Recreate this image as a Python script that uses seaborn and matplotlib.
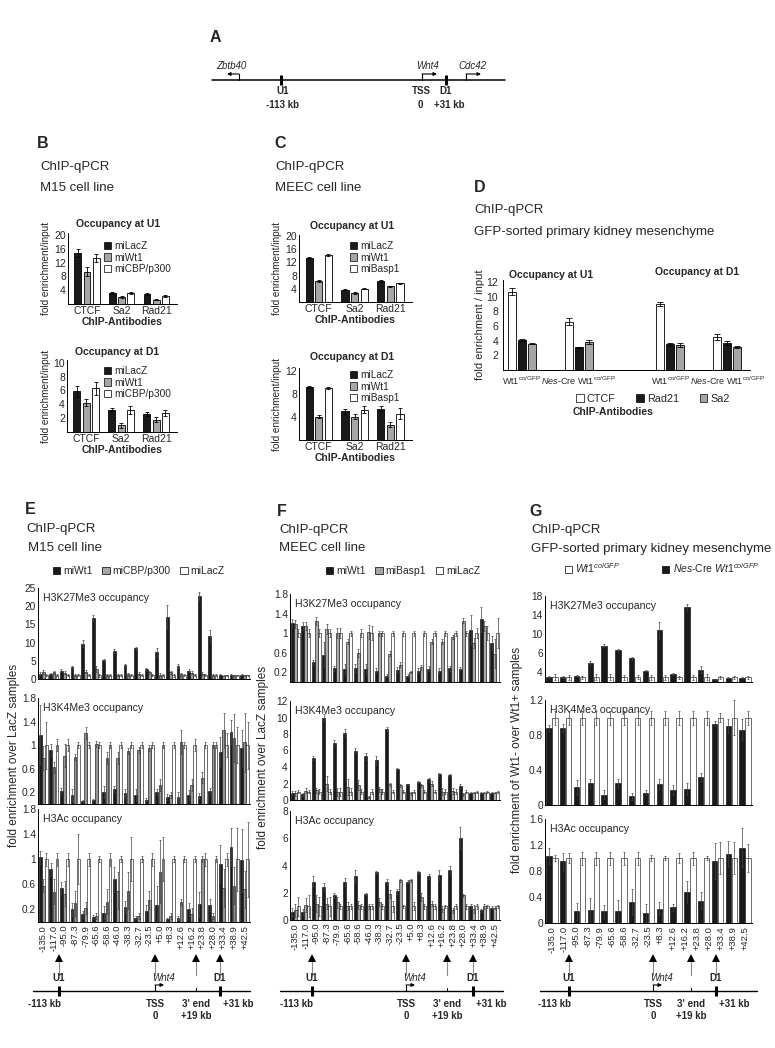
import numpy as np
import pandas as pd
import matplotlib
matplotlib.use("Agg")
import matplotlib.pyplot as plt
import seaborn as sns
from matplotlib.patches import Patch

W, H = 775, 1048

# ---------------- data: panels B / C / D ----------------
antibodies = ["CTCF", "Sa2", "Rad21"]
m15_sets = ["miLacZ", "miWt1", "miCBP/p300"]
meec_sets = ["miLacZ", "miWt1", "miBasp1"]

b_u1 = [[14.7, 3.2, 2.8], [9.3, 1.9, 1.3], [13.3, 3.2, 2.3]]
b_u1_err = [[1.2, 0.3, 0.3], [1.3, 0.3, 0.2], [1.2, 0.3, 0.3]]
b_d1 = [[5.9, 3.2, 2.6], [4.2, 1.0, 1.8], [6.3, 3.2, 2.7]]
b_d1_err = [[0.8, 0.2, 0.3], [0.5, 0.35, 0.3], [0.9, 0.6, 0.45]]

c_u1 = [[13.4, 3.7, 6.4], [6.4, 2.7, 4.7], [14.2, 4.0, 5.7]]
c_u1_err = [[0.2, 0.2, 0.2], [0.2, 0.2, 0.2], [0.2, 0.2, 0.2]]
c_d1 = [[9.3, 5.0, 5.5], [4.1, 4.1, 2.7], [9.1, 5.3, 4.6]]
c_d1_err = [[0.2, 0.5, 0.4], [0.3, 0.4, 0.4], [0.2, 0.6, 1.0]]

d_antibodies = ["CTCF", "Rad21", "Sa2"]
d_labels = [r"Wt1$^{\mathrm{co/GFP}}$", r"$\mathit{Nes}$-Cre Wt1$^{\mathrm{co/GFP}}$",
            r"Wt1$^{\mathrm{co/GFP}}$", r"$\mathit{Nes}$-Cre Wt1$^{\mathrm{co/GFP}}$"]
d_vals = [[10.7, 6.6, 9.0, 4.5], [4.1, 3.1, 3.5, 3.7], [3.6, 3.8, 3.4, 3.1]]
d_err = [[0.5, 0.5, 0.3, 0.45], [0.2, 0.1, 0.2, 0.3], [0.1, 0.3, 0.3, 0.15]]

# ---------------- data: panels E / F / G ----------------
sites = ["-135.0", "-117.0", "-95.0", "-87.3", "-79.9", "-65.6", "-58.6", "-46.0", "-38.3",
         "-32.7", "-23.5", "+5.0", "+8.3", "+12.6", "+16.2", "+23.8", "+28.0", "+33.4",
         "+38.9", "+42.5"]
g_sites = ["-135.0", "-117.0", "-95.0", "-87.3", "-79.9", "-65.6", "-58.6", "-32.7", "-23.5",
           "+8.3", "+12.6", "+16.2", "+23.8", "+28.0", "+33.4", "+38.9", "+42.5"]
g_groups = ["g01", "g02", "g03", "g04", "g05", "g06", "g07", "g08", "g09", "g10",
            "g11", "g12", "g13", "g14", "g15"]

e_sets = ["miWt1", "miCBP/p300", "miLacZ"]
f_sets = ["miWt1", "miBasp1", "miLacZ"]
g_sets = ["Nes-Cre Wt1co/GFP", "Wt1co/GFP"]

lacz_ones = [1.0, 1.0, 1.0, 1.0, 1.0, 1.0, 1.0, 1.0, 1.0, 1.0,
             1.0, 1.0, 1.0, 1.0, 1.0, 1.0, 1.0, 1.0, 1.0, 1.0]
wt1_ones = [1.0, 1.0, 1.0, 1.0, 1.0, 1.0, 1.0, 1.0, 1.0, 1.0, 1.0, 1.0, 1.0, 1.0, 1.0]

e_k27 = [[1.5, 1.3, 2.3, 3.3, 9.7, 16.7, 5.3, 7.7, 3.8, 8.4, 2.7, 7.3, 17.0, 3.5, 2.3, 22.8, 11.9, 1.2, 1.2, 1.2],
         [2.0, 1.8, 1.7, 1.0, 2.0, 2.8, 1.0, 1.2, 1.3, 1.5, 1.8, 1.2, 1.8, 1.3, 1.7, 1.5, 1.2, 0.9, 1.0, 1.0],
         lacz_ones]
e_k27_err = [[0.4, 0.3, 0.4, 0.4, 0.9, 0.9, 0.3, 0.5, 0.4, 0.5, 0.4, 1.2, 3.4, 0.5, 0.5, 1.2, 1.6, 0.2, 0.2, 0.2],
             [0.5, 0.4, 0.4, 0.3, 0.4, 0.8, 0.3, 0.3, 0.4, 0.4, 0.4, 0.4, 0.5, 0.4, 0.4, 0.5, 0.3, 0.2, 0.2, 0.2],
             [0.3, 0.3, 0.3, 0.3, 0.3, 0.4, 0.3, 0.3, 0.3, 0.3, 0.3, 0.3, 0.4, 0.3, 0.3, 0.3, 0.3, 0.2, 0.2, 0.2]]
e_k4 = [[1.18, 0.92, 0.22, 0.15, 0.05, 0.06, 0.20, 0.25, 0.18, 0.15, 0.06, 0.20, 0.12, 0.12, 0.15, 0.14, 0.22, 0.88, 1.22, 0.95],
        [0.78, 0.62, 0.82, 0.80, 1.20, 1.02, 0.78, 0.78, 0.90, 0.92, 0.95, 0.32, 0.15, 1.05, 0.32, 0.45, 1.00, 1.25, 1.12, 1.05],
        lacz_ones]
e_k4_err = [[0.50, 0.10, 0.05, 0.10, 0.02, 0.02, 0.10, 0.05, 0.08, 0.10, 0.05, 0.05, 0.05, 0.08, 0.08, 0.05, 0.05, 0.25, 0.20, 0.30],
            [0.20, 0.10, 0.20, 0.05, 0.10, 0.05, 0.10, 0.10, 0.05, 0.05, 0.05, 0.10, 0.05, 0.20, 0.10, 0.10, 0.05, 0.30, 0.40, 0.50],
            [0.40, 0.10, 0.10, 0.05, 0.05, 0.05, 0.05, 0.05, 0.05, 0.05, 0.05, 0.05, 0.05, 0.05, 0.10, 0.05, 0.05, 0.20, 0.30, 0.40]]
e_ac = [[1.03, 0.84, 0.54, 0.20, 0.12, 0.08, 0.15, 0.68, 0.24, 0.07, 0.17, 0.27, 0.04, 0.06, 0.20, 0.28, 0.27, 0.92, 1.20, 0.98],
        [0.58, 0.48, 0.45, 0.30, 0.22, 0.10, 0.32, 0.50, 0.50, 0.10, 0.35, 0.80, 0.10, 0.32, 0.12, 1.00, 0.10, 0.54, 0.58, 0.52],
        lacz_ones]
e_ac_err = [[0.10, 0.10, 0.10, 0.10, 0.05, 0.03, 0.10, 0.20, 0.10, 0.03, 0.10, 0.30, 0.02, 0.03, 0.10, 0.20, 0.10, 0.30, 0.30, 0.50],
            [0.10, 0.20, 0.20, 0.20, 0.10, 0.05, 0.20, 0.30, 0.30, 0.05, 0.15, 0.50, 0.05, 0.05, 0.10, 0.05, 0.05, 0.30, 0.30, 0.30],
            [0.10, 0.10, 0.10, 0.40, 0.10, 0.05, 0.10, 0.05, 0.35, 0.05, 0.10, 0.35, 0.05, 0.05, 0.05, 0.10, 0.05, 0.10, 0.50, 0.60]]

f_k27 = [[1.20, 1.15, 0.40, 0.56, 0.28, 0.27, 0.28, 0.26, 0.23, 0.13, 0.25, 0.13, 0.23, 0.27, 0.23, 0.28, 0.27, 1.07, 1.28, 0.80],
         [1.18, 1.15, 1.25, 1.08, 1.00, 0.82, 0.60, 1.02, 1.00, 0.58, 0.35, 0.20, 0.30, 0.82, 0.82, 0.92, 1.25, 0.80, 1.15, 0.58],
         lacz_ones]
f_k27_err = [[0.08, 0.08, 0.05, 0.25, 0.05, 0.10, 0.08, 0.10, 0.05, 0.03, 0.05, 0.03, 0.05, 0.05, 0.05, 0.05, 0.03, 0.30, 0.25, 0.15],
             [0.08, 0.08, 0.08, 0.10, 0.10, 0.05, 0.08, 0.15, 0.05, 0.05, 0.05, 0.02, 0.05, 0.05, 0.05, 0.05, 0.05, 0.10, 0.10, 0.30],
             [0.08, 0.08, 0.08, 0.08, 0.10, 0.05, 0.08, 0.15, 0.05, 0.05, 0.05, 0.05, 0.05, 0.05, 0.05, 0.05, 0.05, 0.10, 0.15, 0.30]]
f_k4 = [[0.85, 0.70, 5.1, 10.0, 6.9, 8.1, 6.0, 5.3, 4.8, 8.6, 3.8, 1.9, 2.2, 2.5, 3.1, 3.0, 1.7, 0.9, 0.9, 0.9],
        [0.8, 1.1, 1.2, 2.0, 1.0, 1.6, 1.8, 0.4, 1.3, 1.9, 1.8, 0.8, 1.8, 2.0, 1.0, 1.1, 0.7, 0.9, 0.9, 0.9],
        lacz_ones]
f_k4_err = [[0.3, 0.2, 0.2, 0.4, 0.4, 0.5, 0.3, 0.4, 0.5, 0.2, 0.1, 0.1, 0.1, 0.2, 0.2, 0.1, 0.2, 0.1, 0.1, 0.1],
            [0.3, 0.3, 0.3, 0.9, 0.5, 1.0, 0.6, 0.1, 0.3, 0.2, 0.2, 0.2, 0.2, 0.3, 0.4, 0.4, 0.2, 0.1, 0.1, 0.1],
            [0.2, 0.2, 0.3, 0.3, 0.5, 0.4, 0.3, 0.3, 0.3, 0.2, 0.2, 0.2, 0.2, 0.2, 0.3, 0.3, 0.2, 0.1, 0.1, 0.1]]
f_ac = [[0.6, 0.6, 2.8, 2.4, 1.8, 2.8, 3.2, 1.9, 3.5, 2.8, 2.1, 2.8, 3.5, 3.2, 3.3, 3.7, 6.0, 1.0, 0.7, 0.9],
        [0.7, 1.1, 1.2, 1.2, 1.3, 1.0, 1.1, 1.0, 1.3, 1.9, 2.9, 2.9, 1.7, 1.2, 0.8, 0.7, 1.8, 0.8, 1.0, 0.9],
        lacz_ones]
f_ac_err = [[0.3, 0.2, 0.4, 0.3, 0.2, 0.3, 0.5, 0.1, 0.1, 0.2, 0.2, 0.1, 0.1, 0.2, 0.4, 0.3, 0.8, 0.2, 0.1, 0.1],
            [0.5, 0.5, 0.6, 0.4, 0.4, 0.3, 0.3, 0.2, 0.3, 0.3, 0.1, 0.1, 0.3, 0.2, 0.2, 0.2, 0.1, 0.3, 0.2, 0.1],
            [0.7, 0.8, 0.7, 0.7, 0.2, 0.2, 0.2, 0.2, 0.2, 0.4, 0.1, 0.3, 0.2, 0.2, 0.1, 0.2, 0.2, 0.2, 0.1, 0.1]]

g_k27 = [[1.05, 1.05, 1.3, 4.0, 7.6, 6.6, 5.0, 2.4, 10.8, 1.75, 15.7, 2.6, 0.6, 0.85, 0.9], wt1_ones]
g_k27_err = [[0.3, 0.2, 0.2, 0.4, 0.3, 0.4, 0.3, 0.2, 1.7, 0.2, 0.7, 0.8, 0.1, 0.1, 0.1],
             [0.6, 0.5, 0.3, 0.6, 0.6, 0.5, 0.4, 0.5, 0.5, 0.3, 0.5, 0.6, 0.3, 0.3, 0.3]]
g_k4 = [[0.88, 0.88, 0.21, 0.25, 0.12, 0.25, 0.10, 0.14, 0.24, 0.17, 0.18, 0.32, 0.93, 0.90, 0.86], wt1_ones]
g_k4_err = [[0.03, 0.05, 0.08, 0.05, 0.05, 0.05, 0.04, 0.03, 0.06, 0.06, 0.07, 0.05, 0.03, 0.08, 0.12],
            [0.08, 0.08, 0.08, 0.08, 0.08, 0.08, 0.08, 0.08, 0.08, 0.08, 0.08, 0.08, 0.05, 0.20, 0.08]]
g_ac = [[1.03, 0.95, 0.18, 0.20, 0.18, 0.18, 0.33, 0.15, 0.22, 0.24, 0.48, 0.34, 0.95, 1.06, 1.16], wt1_ones]
g_ac_err = [[0.12, 0.13, 0.13, 0.18, 0.10, 0.18, 0.20, 0.14, 0.10, 0.05, 0.17, 0.13, 0.28, 0.20, 0.30],
            [0.05, 0.08, 0.10, 0.10, 0.10, 0.10, 0.10, 0.05, 0.03, 0.08, 0.10, 0.03, 0.25, 0.25, 0.22]]

# ---------------- style ----------------
sns.set_theme(style="white")
plt.rcParams["font.family"] = ["Liberation Sans", "DejaVu Sans"]
plt.rcParams["mathtext.fontset"] = "custom"
plt.rcParams["mathtext.rm"] = "Liberation Sans"
plt.rcParams["mathtext.it"] = "Liberation Sans:italic"
plt.rcParams["mathtext.bf"] = "Liberation Sans:bold"
plt.rcParams["axes.edgecolor"] = "black"
plt.rcParams["axes.linewidth"] = 0.7

BLACK, GRAY, WHITE = "#1a1a1a", "#a6a6a6", "#ffffff"

fig = plt.figure(figsize=(W / 100, H / 100), dpi=100)


def rect(x0, y0, x1, y1):
    return [x0 / W, 1 - y1 / H, (x1 - x0) / W, (y1 - y0) / H]


def txt(x, y, s, size=7, **kw):
    kw.setdefault("va", "center")
    fig.text(x / W, 1 - y / H, s, fontsize=size, **kw)


def bar_chart(ax, cats, series, vals, errs, colors, width=0.8, gap=0.25, lw=0.6,
              ecolor="black", elw=0.6, capsize=1.5, xpos=None):
    rows = []
    for s, vrow in zip(series, vals):
        for i, v in enumerate(vrow):
            rows.append({"cat": cats[i] if xpos is None else xpos[i], "series": s, "value": v})
    df = pd.DataFrame(rows)
    sns.barplot(data=df, x="cat", y="value", hue="series",
                order=cats if xpos is None else None, hue_order=series,
                palette=dict(zip(series, colors)), width=width, gap=gap,
                edgecolor="black", linewidth=lw, errorbar=None, legend=False,
                native_scale=xpos is not None, ax=ax)
    for cont, erow in zip(list(ax.containers), errs):
        xs = [p.get_x() + p.get_width() / 2 for p in cont.patches]
        ys = [p.get_height() for p in cont.patches]
        ax.errorbar(xs, ys, yerr=erow, fmt="none", ecolor=ecolor, elinewidth=elw,
                    capsize=capsize, capthick=elw, zorder=5)
    ax.set_xlabel("")
    ax.set_ylabel("")
    sns.despine(ax=ax)


def square_legend(labels, colors, x, y, ncol=1, size=7.5, colsp=0.8, lsp=0.25):
    handles = [Patch(facecolor=c, edgecolor="black", linewidth=0.5, label=l)
               for l, c in zip(labels, colors)]
    fig.legend(handles=handles, loc="upper left", bbox_to_anchor=(x / W, 1 - y / H),
               ncol=ncol, frameon=False, fontsize=size, handlelength=0.7, handleheight=0.7,
               handletextpad=0.3, columnspacing=colsp, borderaxespad=0, borderpad=0,
               labelspacing=lsp)


def small_chart(box, title, title_xy, vals, errs, series, ylim, yticks, leg_xy):
    ax = fig.add_axes(rect(*box))
    bar_chart(ax, antibodies, series, vals, errs, [BLACK, GRAY, WHITE])
    ax.set_ylim(*ylim)
    ax.set_yticks(yticks)
    ax.set_yticklabels([str(t) for t in yticks])
    ax.tick_params(axis="y", labelsize=7.5, length=0, pad=1.5)
    ax.tick_params(axis="x", labelsize=7.5, length=0, pad=1.5)
    ax.set_xlim(-0.55, 2.6)
    ax.set_xlabel("ChIP-Antibodies", fontsize=7.5, fontweight="bold", labelpad=1)
    ax.set_ylabel("fold enrichment/input", fontsize=7.2, labelpad=2)
    txt(title_xy[0], title_xy[1], title, size=7.5, fontweight="bold", ha="center")
    square_legend(series, [BLACK, GRAY, WHITE], leg_xy[0], leg_xy[1], size=7.3, lsp=0.15)
    return ax


# ---------------- panels B and C ----------------
txt(37, 144, "B", size=11.5, fontweight="bold")
txt(40, 167, "ChIP-qPCR", size=9.5)
txt(40, 188, "M15 cell line", size=9.5)
small_chart((68, 233, 177, 304), "Occupancy at U1", (118, 224), b_u1, b_u1_err, m15_sets,
            (0, 20.6), [4, 8, 12, 16, 20], (104, 241))
small_chart((67, 360, 177, 432), "Occupancy at D1", (117, 352), b_d1, b_d1_err, m15_sets,
            (0, 10.4), [2, 4, 6, 8, 10], (104, 366))

txt(274, 144, "C", size=11.5, fontweight="bold")
txt(275, 167, "ChIP-qPCR", size=9.5)
txt(275, 188, "MEEC cell line", size=9.5)
small_chart((299, 235, 412, 302), "Occupancy at U1", (352, 226), c_u1, c_u1_err, meec_sets,
            (0, 20.3), [4, 8, 12, 16, 20], (350, 241))
small_chart((299, 368, 412, 440), "Occupancy at D1", (352, 357), c_d1, c_d1_err, meec_sets,
            (0, 12.6), [4, 8, 12], (350, 370))

# ---------------- panel D ----------------
txt(474, 188, "D", size=11.5, fontweight="bold")
txt(474, 210, "ChIP-qPCR", size=9.5)
txt(474, 232, "GFP-sorted primary kidney mesenchyme", size=9.5)
d_pos = [0, 1, 2.6, 3.6]
axd = fig.add_axes(rect(503, 280, 750, 370))
bar_chart(axd, d_labels, d_antibodies, d_vals, d_err, [WHITE, BLACK, GRAY],
          width=0.52, gap=0.2, xpos=d_pos, capsize=2)
axd.set_xlim(-0.33, 4.0)
axd.set_ylim(0, 12.3)
axd.set_yticks([2, 4, 6, 8, 10, 12])
axd.set_yticklabels(["2", "4", "6", "8", "10", "12"])
axd.set_xticks(d_pos)
axd.set_xticklabels(d_labels, fontsize=6.5)
axd.tick_params(axis="y", labelsize=7.5, length=2.5, width=0.6, pad=1)
axd.tick_params(axis="x", length=0, pad=3)
axd.set_ylabel("fold enrichment / input", fontsize=8, labelpad=1)
txt(551, 275, "Occupancy at U1", size=7.5, fontweight="bold", ha="center")
txt(697, 272, "Occupancy at D1", size=7.5, fontweight="bold", ha="center")
square_legend(d_antibodies, [WHITE, BLACK, GRAY], 576, 394, ncol=3, size=7.8, colsp=1.9)
txt(613, 412, "ChIP-Antibodies", size=7.5, fontweight="bold", ha="center")


# ---------------- panels E / F / G ----------------
def histone_panel(x0, x1, boxes, cats, series, colors, rows, tick_labels, tick_pos, ylab, ylab_x):
    axes = []
    for (y0, y1), (title, vals, errs, ylim, yt, ytl) in zip(boxes, rows):
        ax = fig.add_axes(rect(x0, y0, x1, y1))
        bar_chart(ax, cats, series, vals, errs, colors, width=0.86, gap=0.08, lw=0.4,
                  ecolor="#444444", elw=0.5, capsize=1.0)
        ax.set_xlim(-0.5, len(cats) - 0.5)
        ax.set_ylim(*ylim)
        ax.set_yticks(yt)
        ax.set_yticklabels(ytl)
        ax.tick_params(axis="y", labelsize=7.3, length=0, pad=1.5)
        ax.tick_params(axis="x", length=0, labelbottom=False)
        txt(x0 + 5, y0 + 10, title, size=7.6)
        axes.append(ax)
    axes[-1].set_xticks(tick_pos)
    axes[-1].set_xticklabels(tick_labels, rotation=90, fontsize=6.8)
    axes[-1].tick_params(axis="x", labelbottom=True, pad=2)
    txt(ylab_x, (boxes[0][0] + boxes[-1][1]) / 2, ylab, size=8.5, rotation=90, ha="center")
    return axes


txt(25, 509, "E", size=11.5, fontweight="bold")
txt(26, 529, "ChIP-qPCR", size=9.5)
txt(28, 548, "M15 cell line", size=9.5)
square_legend(e_sets, [BLACK, GRAY, WHITE], 53, 566, ncol=3, size=7.5, colsp=0.9)
histone_panel(38, 250, [(588, 679), (698, 804), (809, 922)], sites, e_sets,
              [BLACK, "#969696", WHITE],
              [("H3K27Me3 occupancy", e_k27, e_k27_err, (0, 25), [0, 5, 10, 15, 20, 25],
                ["0", "5", "10", "15", "20", "25"]),
               ("H3K4Me3 occupancy", e_k4, e_k4_err, (0, 1.8), [0.2, 0.6, 1.0, 1.4, 1.8],
                ["0.2", "0.6", "1", "1.4", "1.8"]),
               ("H3Ac occupancy", e_ac, e_ac_err, (0, 1.8), [0.2, 0.6, 1.0, 1.4, 1.8],
                ["0.2", "0.6", "1", "1.4", "1.8"])],
              sites, list(range(len(sites))), "fold enrichment over LacZ samples", 14)

txt(277, 511, "F", size=11.5, fontweight="bold")
txt(279, 530, "ChIP-qPCR", size=9.5)
txt(279, 548, "MEEC cell line", size=9.5)
square_legend(f_sets, [BLACK, GRAY, WHITE], 326, 566, ncol=3, size=7.5, colsp=0.9)
histone_panel(290, 500, [(594, 682), (701, 800), (811, 920)], sites, f_sets,
              [BLACK, "#aaaaaa", WHITE],
              [("H3K27Me3 occupancy", f_k27, f_k27_err, (0, 1.8), [0.2, 0.6, 1.0, 1.4, 1.8],
                ["0.2", "0.6", "1", "1.4", "1.8"]),
               ("H3K4Me3 occupancy", f_k4, f_k4_err, (0, 12), [0, 2, 4, 6, 8, 10, 12],
                ["0", "2", "4", "6", "8", "10", "12"]),
               ("H3Ac occupancy", f_ac, f_ac_err, (0, 8), [0, 2, 4, 6, 8],
                ["0", "2", "4", "6", "8"])],
              sites, list(range(len(sites))), "fold enrichment over LacZ samples", 263)

txt(529, 511, "G", size=11.5, fontweight="bold")
txt(531, 530, "ChIP-qPCR", size=9.5)
txt(531, 549, "GFP-sorted primary kidney mesenchyme", size=9.5)
square_legend([r"$\mathit{Wt1}^{\mathit{co/GFP}}$",
               r"$\mathit{Nes}$-Cre $\mathit{Wt1}^{\mathit{co/GFP}}$"],
              [WHITE, BLACK], 565, 561, ncol=2, size=7.5, colsp=4.0)
histone_panel(545, 752, [(596, 682), (700, 805), (819, 923)], g_groups, g_sets,
              [BLACK, WHITE],
              [("H3K27Me3 occupancy", g_k27, g_k27_err, (0, 18), [2, 6, 10, 14, 18],
                ["4", "6", "10", "14", "18"]),
               ("H3K4Me3 occupancy", g_k4, g_k4_err, (0, 1.2), [0, 0.4, 0.8, 1.2],
                ["0", "0.4", "0.8", "1.2"]),
               ("H3Ac occupancy", g_ac, g_ac_err, (0, 1.6), [0, 0.4, 0.8, 1.2, 1.6],
                ["0", "0.4", "0.8", "1.2", "1.6"])],
              g_sites, list(np.linspace(0, len(g_groups) - 1, len(g_sites))),
              "fold enrichment of Wt1- over Wt1+ samples", 517)

# ---------------- schematic overlays (panel A and locus maps) ----------------
ov = fig.add_axes([0, 0, 1, 1])
ov.set_xlim(0, W)
ov.set_ylim(H, 0)
ov.axis("off")


def bent_arrow(x, y, direction, length=12, rise=6):
    ov.plot([x, x], [y, y - rise], color="black", lw=0.8)
    ov.annotate("", xy=(x + direction * length, y - rise), xytext=(x, y - rise),
                arrowprops=dict(arrowstyle="-|>", color="black", lw=0.8,
                                mutation_scale=5, shrinkA=0, shrinkB=0))


def locus_tick(x, y, half=5):
    ov.plot([x, x], [y - half, y + half], color="black", lw=2.2, solid_capstyle="butt")


# panel A
ov.text(210, 37, "A", fontsize=11.5, fontweight="bold", va="center")
ov.plot([212, 505], [80, 80], color="black", lw=1.1)
bent_arrow(239, 80, -1)
bent_arrow(422, 80, 1, length=15)
bent_arrow(466, 80, 1, length=15)
locus_tick(281, 80)
locus_tick(446, 80)
ov.text(231, 66, "Zbtb40", fontsize=7, style="italic", ha="center", va="center")
ov.text(428, 66, "Wnt4", fontsize=7, style="italic", ha="center", va="center")
ov.text(472, 66, "Cdc42", fontsize=7, style="italic", ha="center", va="center")
for x, y, s in [(283, 91, "U1"), (283, 105, "-113 kb"), (421, 91, "TSS"), (420, 105, "0"),
                (446, 91, "D1"), (449, 105, "+31 kb")]:
    ov.text(x, y, s, fontsize=7, fontweight="bold", ha="center", va="center")


def locus_map(x0, x1, u1, tss, end3, d1, y=991):
    for x in (u1, tss, end3, d1):
        ov.plot([x, x], [962, 975], color="#8a8a8a", lw=0.8)
        ov.plot([x], [958], marker="^", color="black", ms=5.5, mew=0)
    ov.plot([x0, x1], [y, y], color="black", lw=1.0)
    locus_tick(u1, y)
    locus_tick(d1, y)
    ov.plot([end3, end3], [y - 3, y], color="black", lw=0.8)
    bent_arrow(tss, y, 1, length=9, rise=6)
    ov.text(u1, 978, "U1", fontsize=7, fontweight="bold", ha="center", va="center")
    ov.text(tss + 9, 978, "Wnt4", fontsize=7, style="italic", ha="center", va="center")
    ov.text(d1, 978, "D1", fontsize=7, fontweight="bold", ha="center", va="center")
    ov.text(u1 - 15, 1004, "-113 kb", fontsize=7, fontweight="bold", ha="center", va="center")
    ov.text(tss, 1004, "TSS", fontsize=7, fontweight="bold", ha="center", va="center")
    ov.text(tss, 1016, "0", fontsize=7, fontweight="bold", ha="center", va="center")
    ov.text(end3, 1004, "3' end", fontsize=7, fontweight="bold", ha="center", va="center")
    ov.text(end3, 1016, "+19 kb", fontsize=7, fontweight="bold", ha="center", va="center")
    ov.text(d1 + 18, 1004, "+31 kb", fontsize=7, fontweight="bold", ha="center", va="center")


locus_map(33, 250, 59, 155, 196, 220)
locus_map(280, 503, 312, 406, 447, 473)
locus_map(540, 757, 569, 653, 691, 716)

fig.savefig("out.png", dpi=100)
